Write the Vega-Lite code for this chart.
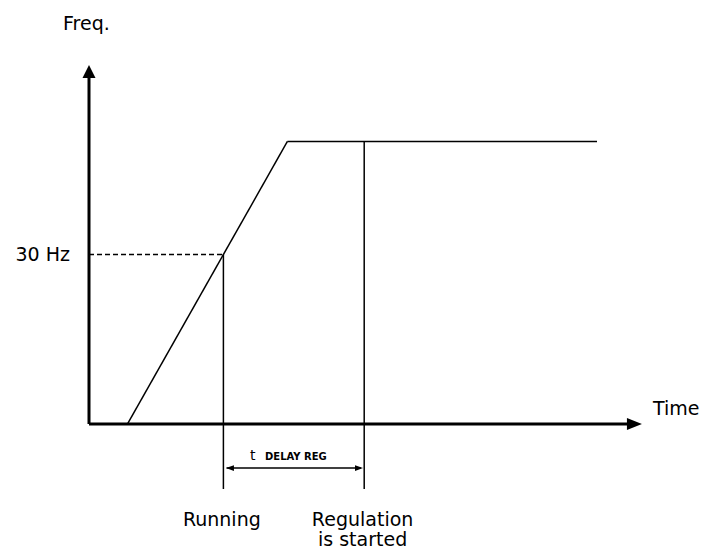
{
  "$schema": "https://vega.github.io/schema/vega-lite/v6.json",
  "width": 704,
  "height": 556,
  "autosize": {"type": "fit", "contains": "padding"},
  "padding": 0,
  "background": "white",
  "config": {"view": {"stroke": null}},
  "datasets": {
    "axes": [
      {"t1": 0, "f1": 0, "t2": 0, "f2": 62},
      {"t1": 0, "f1": 0, "t2": 33.8, "f2": 0}
    ],
    "curves": [
      {"part": "ramp", "t1": 2.4, "f1": 0, "t2": 12.4, "f2": 50},
      {"part": "plateau", "t1": 12.4, "f1": 50, "t2": 31.75, "f2": 50},
      {"part": "running", "t1": 8.4, "f1": 30, "t2": 8.4, "f2": -11.5},
      {"part": "regulation", "t1": 17.2, "f1": 50, "t2": 17.2, "f2": -11.5},
      {"part": "delay", "t1": 8.6, "f1": -7.8, "t2": 17.0, "f2": -7.8}
    ],
    "dashed": [
      {"t1": 0, "f1": 30, "t2": 8.4, "f2": 30}
    ],
    "upHead": [{"t": 0, "f": 62.4}],
    "rightHead": [{"t": 34.09, "f": 0}],
    "delayLeft": [{"t": 8.81, "f": -7.8}],
    "delayRight": [{"t": 16.875, "f": -7.8}],
    "leftText": [
      {"t": -1.625, "f": 69.7, "label": "Freq."},
      {"t": 35.25, "f": 1.6, "label": "Time"}
    ],
    "rightText": [
      {"t": -1.19, "f": 28.85, "label": "30 Hz"}
    ],
    "centerText": [
      {"t": 8.3, "f": -18.0, "label": "Running"},
      {"t": 17.1, "f": -18.05, "label": "Regulation"},
      {"t": 17.1, "f": -21.6, "label": "is started"}
    ],
    "tText": [{"t": 10.06, "f": -6.3, "label": "t"}],
    "subText": [{"t": 11.0, "f": -6.3, "label": "DELAY REG"}]
  },
  "layer": [
    {
      "data": {"name": "dashed"},
      "mark": {"type": "rule", "color": "black", "strokeWidth": 1.3, "strokeDash": [5, 3]},
      "encoding": {
        "x": {"field": "t1", "type": "quantitative", "scale": {"domain": [-5.5625, 38.4375], "nice": false, "zero": false}, "axis": null},
        "y": {"field": "f1", "type": "quantitative", "scale": {"domain": [-23.36, 75.04], "nice": false, "zero": false}, "axis": null},
        "x2": {"field": "t2"},
        "y2": {"field": "f2"}
      }
    },
    {
      "data": {"name": "curves"},
      "mark": {"type": "rule", "color": "black", "strokeWidth": 1.5},
      "encoding": {
        "x": {"field": "t1", "type": "quantitative", "scale": {"domain": [-5.5625, 38.4375], "nice": false, "zero": false}, "axis": null},
        "y": {"field": "f1", "type": "quantitative", "scale": {"domain": [-23.36, 75.04], "nice": false, "zero": false}, "axis": null},
        "x2": {"field": "t2"},
        "y2": {"field": "f2"}
      }
    },
    {
      "data": {"name": "axes"},
      "mark": {"type": "rule", "color": "black", "strokeWidth": 3},
      "encoding": {
        "x": {"field": "t1", "type": "quantitative", "scale": {"domain": [-5.5625, 38.4375], "nice": false, "zero": false}, "axis": null},
        "y": {"field": "f1", "type": "quantitative", "scale": {"domain": [-23.36, 75.04], "nice": false, "zero": false}, "axis": null},
        "x2": {"field": "t2"},
        "y2": {"field": "f2"}
      }
    },
    {
      "data": {"name": "upHead"},
      "mark": {"type": "point", "shape": "M0,-1L-1,1L1,1Z", "size": 169, "filled": true, "color": "black", "opacity": 1},
      "encoding": {
        "x": {"field": "t", "type": "quantitative", "scale": {"domain": [-5.5625, 38.4375], "nice": false, "zero": false}, "axis": null},
        "y": {"field": "f", "type": "quantitative", "scale": {"domain": [-23.36, 75.04], "nice": false, "zero": false}, "axis": null}
      }
    },
    {
      "data": {"name": "rightHead"},
      "mark": {"type": "point", "shape": "M1,0L-1,-0.8L-1,0.8Z", "size": 225, "filled": true, "color": "black", "opacity": 1},
      "encoding": {
        "x": {"field": "t", "type": "quantitative", "scale": {"domain": [-5.5625, 38.4375], "nice": false, "zero": false}, "axis": null},
        "y": {"field": "f", "type": "quantitative", "scale": {"domain": [-23.36, 75.04], "nice": false, "zero": false}, "axis": null}
      }
    },
    {
      "data": {"name": "delayLeft"},
      "mark": {"type": "point", "shape": "M-1,0L1,-0.7L1,0.7Z", "size": 64, "filled": true, "color": "black", "opacity": 1},
      "encoding": {
        "x": {"field": "t", "type": "quantitative", "scale": {"domain": [-5.5625, 38.4375], "nice": false, "zero": false}, "axis": null},
        "y": {"field": "f", "type": "quantitative", "scale": {"domain": [-23.36, 75.04], "nice": false, "zero": false}, "axis": null}
      }
    },
    {
      "data": {"name": "delayRight"},
      "mark": {"type": "point", "shape": "M1,0L-1,-0.7L-1,0.7Z", "size": 64, "filled": true, "color": "black", "opacity": 1},
      "encoding": {
        "x": {"field": "t", "type": "quantitative", "scale": {"domain": [-5.5625, 38.4375], "nice": false, "zero": false}, "axis": null},
        "y": {"field": "f", "type": "quantitative", "scale": {"domain": [-23.36, 75.04], "nice": false, "zero": false}, "axis": null}
      }
    },
    {
      "data": {"name": "leftText"},
      "mark": {"type": "text", "align": "left", "baseline": "alphabetic", "font": "DejaVu Sans", "fontSize": 19, "color": "black"},
      "encoding": {
        "x": {"field": "t", "type": "quantitative", "scale": {"domain": [-5.5625, 38.4375], "nice": false, "zero": false}, "axis": null},
        "y": {"field": "f", "type": "quantitative", "scale": {"domain": [-23.36, 75.04], "nice": false, "zero": false}, "axis": null},
        "text": {"field": "label"}
      }
    },
    {
      "data": {"name": "rightText"},
      "mark": {"type": "text", "align": "right", "baseline": "alphabetic", "font": "DejaVu Sans", "fontSize": 19, "color": "black"},
      "encoding": {
        "x": {"field": "t", "type": "quantitative", "scale": {"domain": [-5.5625, 38.4375], "nice": false, "zero": false}, "axis": null},
        "y": {"field": "f", "type": "quantitative", "scale": {"domain": [-23.36, 75.04], "nice": false, "zero": false}, "axis": null},
        "text": {"field": "label"}
      }
    },
    {
      "data": {"name": "centerText"},
      "mark": {"type": "text", "align": "center", "baseline": "alphabetic", "font": "DejaVu Sans", "fontSize": 19, "color": "black"},
      "encoding": {
        "x": {"field": "t", "type": "quantitative", "scale": {"domain": [-5.5625, 38.4375], "nice": false, "zero": false}, "axis": null},
        "y": {"field": "f", "type": "quantitative", "scale": {"domain": [-23.36, 75.04], "nice": false, "zero": false}, "axis": null},
        "text": {"field": "label"}
      }
    },
    {
      "data": {"name": "tText"},
      "mark": {"type": "text", "align": "left", "baseline": "alphabetic", "font": "DejaVu Sans", "fontSize": 14, "color": "black"},
      "encoding": {
        "x": {"field": "t", "type": "quantitative", "scale": {"domain": [-5.5625, 38.4375], "nice": false, "zero": false}, "axis": null},
        "y": {"field": "f", "type": "quantitative", "scale": {"domain": [-23.36, 75.04], "nice": false, "zero": false}, "axis": null},
        "text": {"field": "label"}
      }
    },
    {
      "data": {"name": "subText"},
      "mark": {"type": "text", "align": "left", "baseline": "alphabetic", "font": "DejaVu Sans", "fontSize": 10, "fontWeight": "bold", "color": "black"},
      "encoding": {
        "x": {"field": "t", "type": "quantitative", "scale": {"domain": [-5.5625, 38.4375], "nice": false, "zero": false}, "axis": null},
        "y": {"field": "f", "type": "quantitative", "scale": {"domain": [-23.36, 75.04], "nice": false, "zero": false}, "axis": null},
        "text": {"field": "label"}
      }
    }
  ]
}
